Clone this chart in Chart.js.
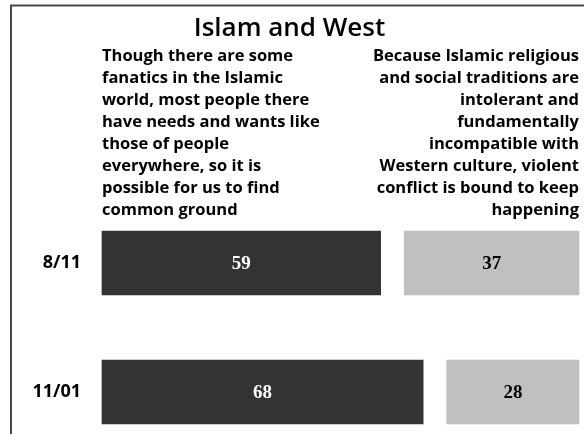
<!DOCTYPE html>
<html>
<head>
<meta charset="utf-8">
<script src="https://cdn.jsdelivr.net/npm/chart.js@4.4.1/dist/chart.umd.min.js"></script>
<style>
  html, body { margin: 0; padding: 0; background: #fff; overflow: hidden; }
  #wrap { position: relative; width: 584px; height: 434px; }
</style>
</head>
<body>
<div id="wrap"><canvas id="islamWest" width="584" height="434"></canvas></div>
<script>
// survey dates (rows)
const categories = ['8/11', '11/01'];
// % saying common ground is possible
const commonGroundValues = [59, 68];
// blank space between the two answers, as drawn
const gapValues = [5, 5];
// % saying violent conflict is bound to keep happening
const conflictValues = [37, 28];

const titleText = 'Islam and West';
const leftHeaderLines = [
  'Though there are some',
  'fanatics in the Islamic',
  'world, most people there',
  'have needs and wants like',
  'those of people',
  'everywhere, so it is',
  'possible for us to find',
  'common ground'
];
const rightHeaderLines = [
  'Because Islamic religious',
  'and social traditions are',
  'intolerant and',
  'fundamentally',
  'incompatible with',
  'Western culture, violent',
  'conflict is bound to keep',
  'happening'
];

const SANS = '"Open Sans", Lato, sans-serif';
const SERIF = '"Liberation Serif", "DejaVu Serif", serif';

// frame, column headers and numbers inside the bars
const decorPlugin = {
  id: 'decor',
  afterDraw(chart) {
    const ctx = chart.ctx;
    const area = chart.chartArea;
    ctx.save();

    // frame (top + left only, the rest is cut off)
    ctx.strokeStyle = '#474747';
    ctx.lineWidth = 2;
    ctx.beginPath();
    ctx.moveTo(11, chart.height);
    ctx.lineTo(11, 5.5);
    ctx.lineTo(chart.width, 5.5);
    ctx.stroke();

    // column headers
    ctx.fillStyle = '#000';
    ctx.font = 'bold 16.5px ' + SANS;
    ctx.textBaseline = 'alphabetic';
    ctx.textAlign = 'left';
    leftHeaderLines.forEach((line, i) => {
      ctx.fillText(line, area.left, 61 + i * 22);
    });
    ctx.textAlign = 'right';
    rightHeaderLines.forEach((line, i) => {
      ctx.fillText(line, area.right, 61 + i * 22);
    });

    // values in the middle of the bars
    ctx.font = 'bold 19px ' + SERIF;
    ctx.textAlign = 'center';
    ctx.textBaseline = 'middle';
    [0, 2].forEach(di => {
      const meta = chart.getDatasetMeta(di);
      const ds = chart.data.datasets[di];
      ctx.fillStyle = di === 0 ? '#ffffff' : '#000000';
      meta.data.forEach((bar, i) => {
        ctx.fillText(String(ds.data[i]), (bar.x + bar.base) / 2, bar.y + 1);
      });
    });
    ctx.restore();
  }
};

new Chart(document.getElementById('islamWest'), {
  type: 'bar',
  data: {
    labels: categories,
    datasets: [
      { label: 'Common ground', data: commonGroundValues, backgroundColor: '#333333', barThickness: 64, clip: false },
      { label: 'gap', data: gapValues, backgroundColor: 'rgba(0,0,0,0)', barThickness: 64, clip: false },
      { label: 'Conflict', data: conflictValues, backgroundColor: '#c0c0c0', barThickness: 64, clip: false }
    ]
  },
  options: {
    indexAxis: 'y',
    responsive: false,
    animation: false,
    devicePixelRatio: 1,
    layout: { padding: { top: 0, right: 5, bottom: 42, left: 0 } },
    plugins: {
      legend: { display: false },
      tooltip: { enabled: false },
      title: {
        display: true,
        text: titleText,
        color: '#000',
        font: { family: SANS, size: 26, weight: '600', lineHeight: 1.2 },
        padding: { top: 13, bottom: 218.8 }
      }
    },
    scales: {
      x: { stacked: true, display: false, min: 0, max: 101 },
      y: {
        stacked: true,
        offset: false,
        grid: { display: false, drawTicks: false },
        border: { display: false },
        ticks: {
          padding: 21,
          color: '#000',
          font: { family: SANS, size: 18, weight: 'bold' }
        },
        afterFit(scale) { scale.width = 102; }
      }
    }
  },
  plugins: [decorPlugin]
});
</script>
</body>
</html>
